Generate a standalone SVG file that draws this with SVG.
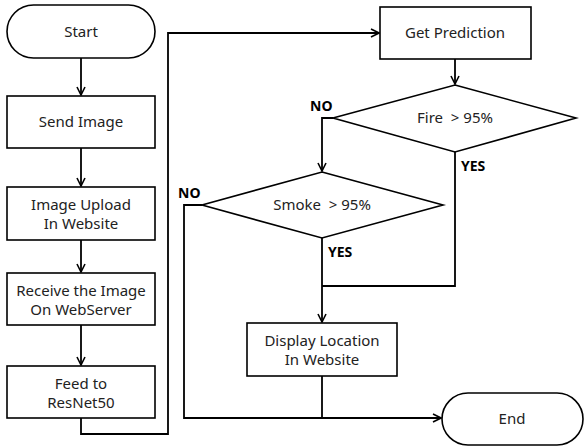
<svg xmlns="http://www.w3.org/2000/svg" width="588" height="448" viewBox="0 0 588 448">
<defs>
<marker id="arr" viewBox="0 0 10 10" refX="9" refY="5" markerWidth="10" markerHeight="10" markerUnits="userSpaceOnUse" orient="auto">
<path d="M1,1 L9,5 L1,9" fill="none" stroke="#000" stroke-width="1.6"/>
</marker>
</defs>
<style>
.s{fill:#fff;stroke:#000;stroke-width:1.6}
.t{font-family:"Noto Sans","Open Sans",sans-serif;font-size:15px;fill:#222;text-anchor:middle}
.l{font-family:"Noto Sans","Open Sans",sans-serif;font-size:14px;font-weight:bold;fill:#000}
.c{fill:none;stroke:#000;stroke-width:1.8}
</style>
<rect width="588" height="448" fill="#fff"/>
<g id="connectors">
<path class="c" d="M81,58 V95" marker-end="url(#arr)"/>
<path class="c" d="M81,148 V186" marker-end="url(#arr)"/>
<path class="c" d="M81,240 V272" marker-end="url(#arr)"/>
<path class="c" d="M81,325 V365" marker-end="url(#arr)"/>
<path class="c" d="M81,418 V434 H168 V33 H379" marker-end="url(#arr)"/>
<path class="c" d="M455,59 V84" marker-end="url(#arr)"/>
<path class="c" d="M333,118 H322 V171" marker-end="url(#arr)"/>
<path class="c" d="M455,152 V286 H322"/>
<path class="c" d="M322,238 V322" marker-end="url(#arr)"/>
<path class="c" d="M202,205 H184 V418 H441" marker-end="url(#arr)"/>
<path class="c" d="M322,376 V418"/>
</g>
<g id="start"><rect class="s" x="7" y="5" width="148" height="53" rx="26.5"/><text class="t" x="81" y="37">Start</text></g>
<g id="send"><rect class="s" x="7" y="96" width="148" height="52"/><text class="t" x="81" y="127">Send Image</text></g>
<g id="upload"><rect class="s" x="7" y="187" width="148" height="53"/><text class="t" x="81" y="210">Image Upload</text><text class="t" x="81" y="229">In Website</text></g>
<g id="receive"><rect class="s" x="7" y="273" width="148" height="52"/><text class="t" x="81" y="296">Receive the Image</text><text class="t" x="81" y="315">On WebServer</text></g>
<g id="feed"><rect class="s" x="7" y="366" width="148" height="52"/><text class="t" x="81" y="389">Feed to</text><text class="t" x="81" y="408">ResNet50</text></g>
<g id="predict"><rect class="s" x="380" y="7" width="151" height="52"/><text class="t" x="455" y="38">Get Prediction</text></g>
<g id="fire"><polygon class="s" points="455,85 576,118 455,152 333,118"/><text class="t" x="455" y="123" xml:space="preserve">Fire  &gt; 95%</text></g>
<g id="smoke"><polygon class="s" points="322,172 443,205 322,238 202,205"/><text class="t" x="322" y="210" xml:space="preserve">Smoke  &gt; 95%</text></g>
<g id="display"><rect class="s" x="247" y="323" width="150" height="53"/><text class="t" x="322" y="346">Display Location</text><text class="t" x="322" y="365">In Website</text></g>
<g id="end"><rect class="s" x="442" y="393" width="141" height="52" rx="26"/><text class="t" x="512" y="424">End</text></g>
<g id="labels">
<text class="l" x="310" y="111">NO</text>
<text class="l" x="461" y="171">YES</text>
<text class="l" x="178" y="198">NO</text>
<text class="l" x="328" y="257">YES</text>
</g>
</svg>
